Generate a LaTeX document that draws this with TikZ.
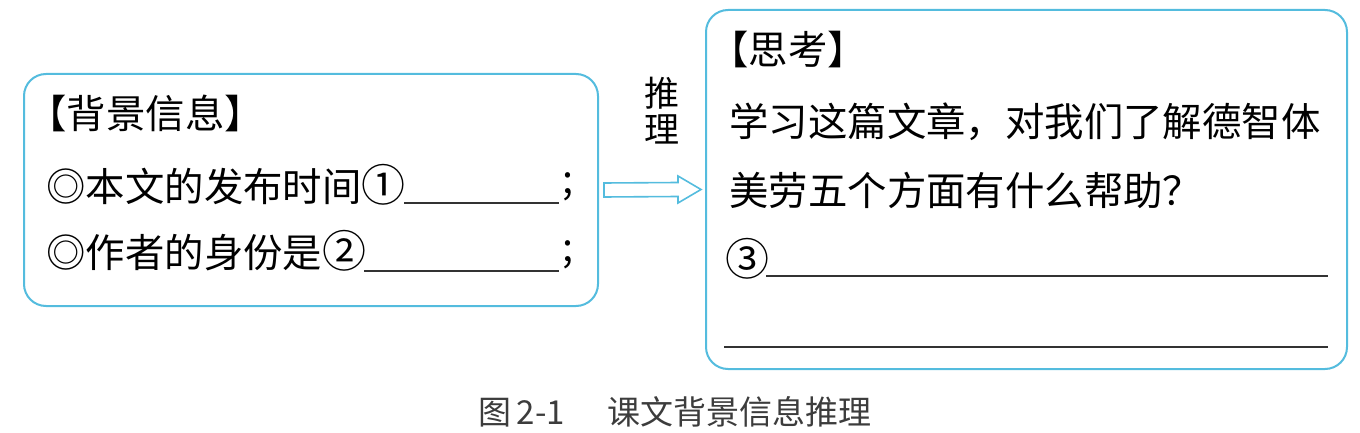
\documentclass[tikz,border=0pt]{standalone}
\usepackage{fontspec}
\setmainfont{Noto Sans CJK SC}
\usepackage{tikz}
\usetikzlibrary{calc}

\definecolor{boxblue}{RGB}{84,188,222}
\definecolor{capgray}{RGB}{60,60,60}

\newcommand{\circnum}[1]{{\fontsize{22}{24}\selectfont #1}}

\tikzset{
  box/.style={draw=boxblue, line width=1pt, rounded corners=11pt, fill=white},
  txt/.style={anchor=west, inner sep=0pt, font=\fontsize{19.7}{24}\selectfont},
  blank/.style={line width=0.6pt, black!80}
}

\begin{document}
\begin{tikzpicture}[x=0.5pt,y=0.5pt,yscale=-1,xscale=1]
\useasboundingbox (0,0) rectangle (1360,433);

%Shape: Left box
\node [box, minimum width=287pt, minimum height=116pt] (bginfo) at (311,190) {};
%Shape: Right box
\node [box, minimum width=320.5pt, minimum height=179.5pt] (think) at (1026.5,189.5) {};

%Hollow arrow
\draw [draw=boxblue, line width=0.8pt, fill=white, line join=miter]
  ($(bginfo.east)+(5,-7)$) -- ($(think.west)+(-27,-7)$) -- ($(think.west)+(-27,-13.5)$)
  -- ($(think.west)+(-4,0)$) -- ($(think.west)+(-27,13.5)$) -- ($(think.west)+(-27,7)$)
  -- ($(bginfo.east)+(5,7)$) -- cycle ;

% Text Node
\node [inner sep=0pt, align=center, font=\fontsize{17.5}{18}\selectfont] (infer) at (662,111) {推\\理};

% Text Node
\node [txt] (bgtitle) at (27,113) {【背景信息】};
% Text Node
\node [txt] (timeq) at (46,185) {◎本文的发布时间\circnum{①}};
\draw [blank] (404,203) -- (559,203) ;
\node [txt] (semi1) at (562,187) {;};
% Text Node
\node [txt] (authq) at (46,251) {◎作者的身份是\circnum{②}};
\draw [blank] (364,271) -- (559,271) ;
\node [txt] (semi2) at (562,255) {;};

% Text Node
\node [txt] (thtitle) at (709,50) {【思考】};
% Text Node
\node [txt] (ques1) at (729,122) {学习这篇文章，对我们了解德智体};
% Text Node
\node [txt] (ques2) at (729,190) {美劳五个方面有什么帮助？};
% Text Node
\node [txt] (ans) at (725,259) {\circnum{③}};
\draw [blank] (766,276) -- (1328,276) ;
\draw [blank] (724,347) -- (1328,347) ;

% Text Node
\node [anchor=west, inner sep=0pt, text=capgray, font=\fontsize{16.5}{18}\selectfont] (caption) at (478,412) {图\,2-1\hspace{1.3em}课文背景信息推理};

\end{tikzpicture}
\end{document}
